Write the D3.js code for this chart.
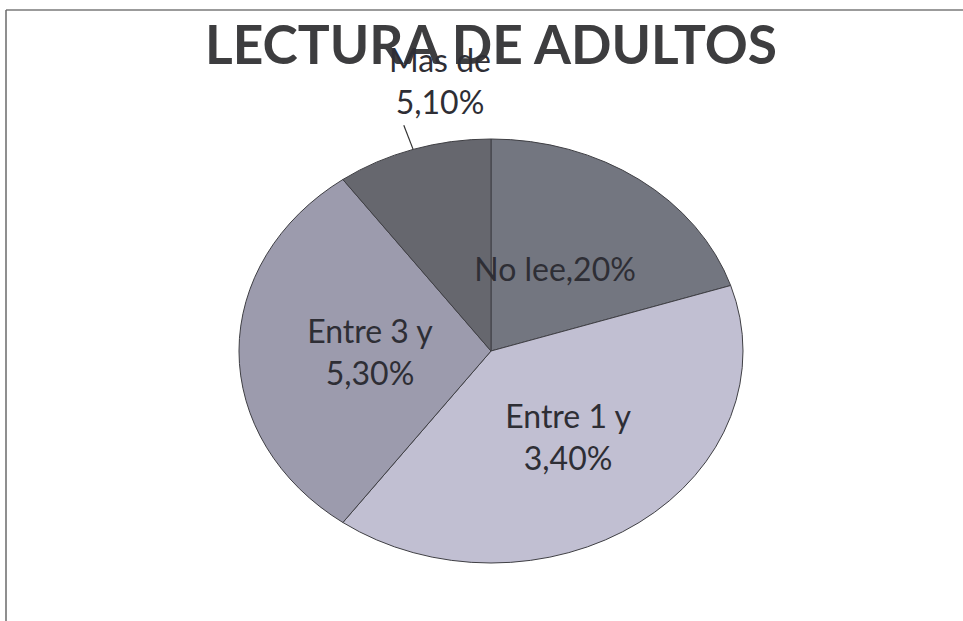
<!DOCTYPE html>
<html>
<head>
<meta charset="utf-8">
<script src="https://cdn.jsdelivr.net/npm/d3@7"></script>
<style>
  body { margin: 0; background: #fff; }
  svg { display: block; }
  text { font-family: Lato, "Open Sans", sans-serif; }
</style>
</head>
<body>
<svg id="chart"></svg>
<script>
// data
const categories = ["No lee", "Entre 1 y 3", "Entre 3 y 5", "Mas de 5"];
const values = [20, 40, 30, 10];
const labelLines = [["No lee,20%"], ["Entre 1 y", "3,40%"], ["Entre 3 y", "5,30%"], ["Mas de", "5,10%"]];
const colors = ["#737680", "#c1bfd2", "#9c9bad", "#66676e"];

const width = 963, height = 621;
const cx = 491, cy = 351;
const ry = 212;            // vertical radius
const sx = 252 / ry;       // pie is drawn squashed into an ellipse

const svg = d3.select("#chart").attr("width", width).attr("height", height);

// frame lines of the scanned page
svg.append("line").attr("x1", 6).attr("y1", 10).attr("x2", width).attr("y2", 10)
  .attr("stroke", "#7a7a7a").attr("stroke-width", 1.5);
svg.append("line").attr("x1", 6).attr("y1", 10).attr("x2", 6).attr("y2", height)
  .attr("stroke", "#6a6a6a").attr("stroke-width", 1.5);

// title
svg.append("text")
  .attr("x", cx).attr("y", 64)
  .attr("text-anchor", "middle")
  .attr("font-size", 53).attr("font-weight", "bold")
  .attr("fill", "#3d3d3f")
  .attr("textLength", 572).attr("lengthAdjust", "spacingAndGlyphs")
  .text("LECTURA DE ADULTOS");

const pie = d3.pie().sort(null).value(d => d.value);
const arcs = pie(categories.map((c, i) => ({ name: c, value: values[i], lines: labelLines[i] })));
const arc = d3.arc().innerRadius(0).outerRadius(ry);

const g = svg.append("g").attr("transform", `translate(${cx},${cy}) scale(${sx},1)`);
g.selectAll("path")
  .data(arcs)
  .enter().append("path")
  .attr("d", arc)
  .attr("fill", (d, i) => colors[i])
  .attr("stroke", "#3f3f44")
  .attr("stroke-width", 1)
  .attr("vector-effect", "non-scaling-stroke");

// point on the ellipse at fraction k of the radius
function ellPoint(d, k) {
  const a = (d.startAngle + d.endAngle) / 2;
  return [cx + Math.sin(a) * ry * sx * k, cy - Math.cos(a) * ry * k];
}

// small nudges so labels sit where the original best-fit put them
const nudge = [[-10, 4], [3, 1], [5, 1], [44, -24]];

const fs = 32, lh = 42;
const labels = svg.append("g");
arcs.forEach((d, i) => {
  const outside = d.value / d3.sum(values) < 0.15;
  let [x, y] = ellPoint(d, outside ? 1.22 : 0.5);
  if (outside) {
    const p0 = ellPoint(d, 1.0), p1 = ellPoint(d, 1.12);
    labels.append("line")
      .attr("x1", p0[0]).attr("y1", p0[1]).attr("x2", p1[0]).attr("y2", p1[1])
      .attr("stroke", "#333").attr("stroke-width", 1.2);
  }
  x += nudge[i][0];
  y += nudge[i][1];
  const n = d.data.lines.length;
  const t = labels.append("text")
    .attr("text-anchor", "middle")
    .attr("font-size", fs)
    .attr("fill", "#2e2e35");
  d.data.lines.forEach((s, j) => {
    t.append("tspan")
      .attr("x", x)
      .attr("y", y + (j - (n - 1) / 2) * lh + fs * 0.36)
      .text(s);
  });
});
</script>
</body>
</html>
